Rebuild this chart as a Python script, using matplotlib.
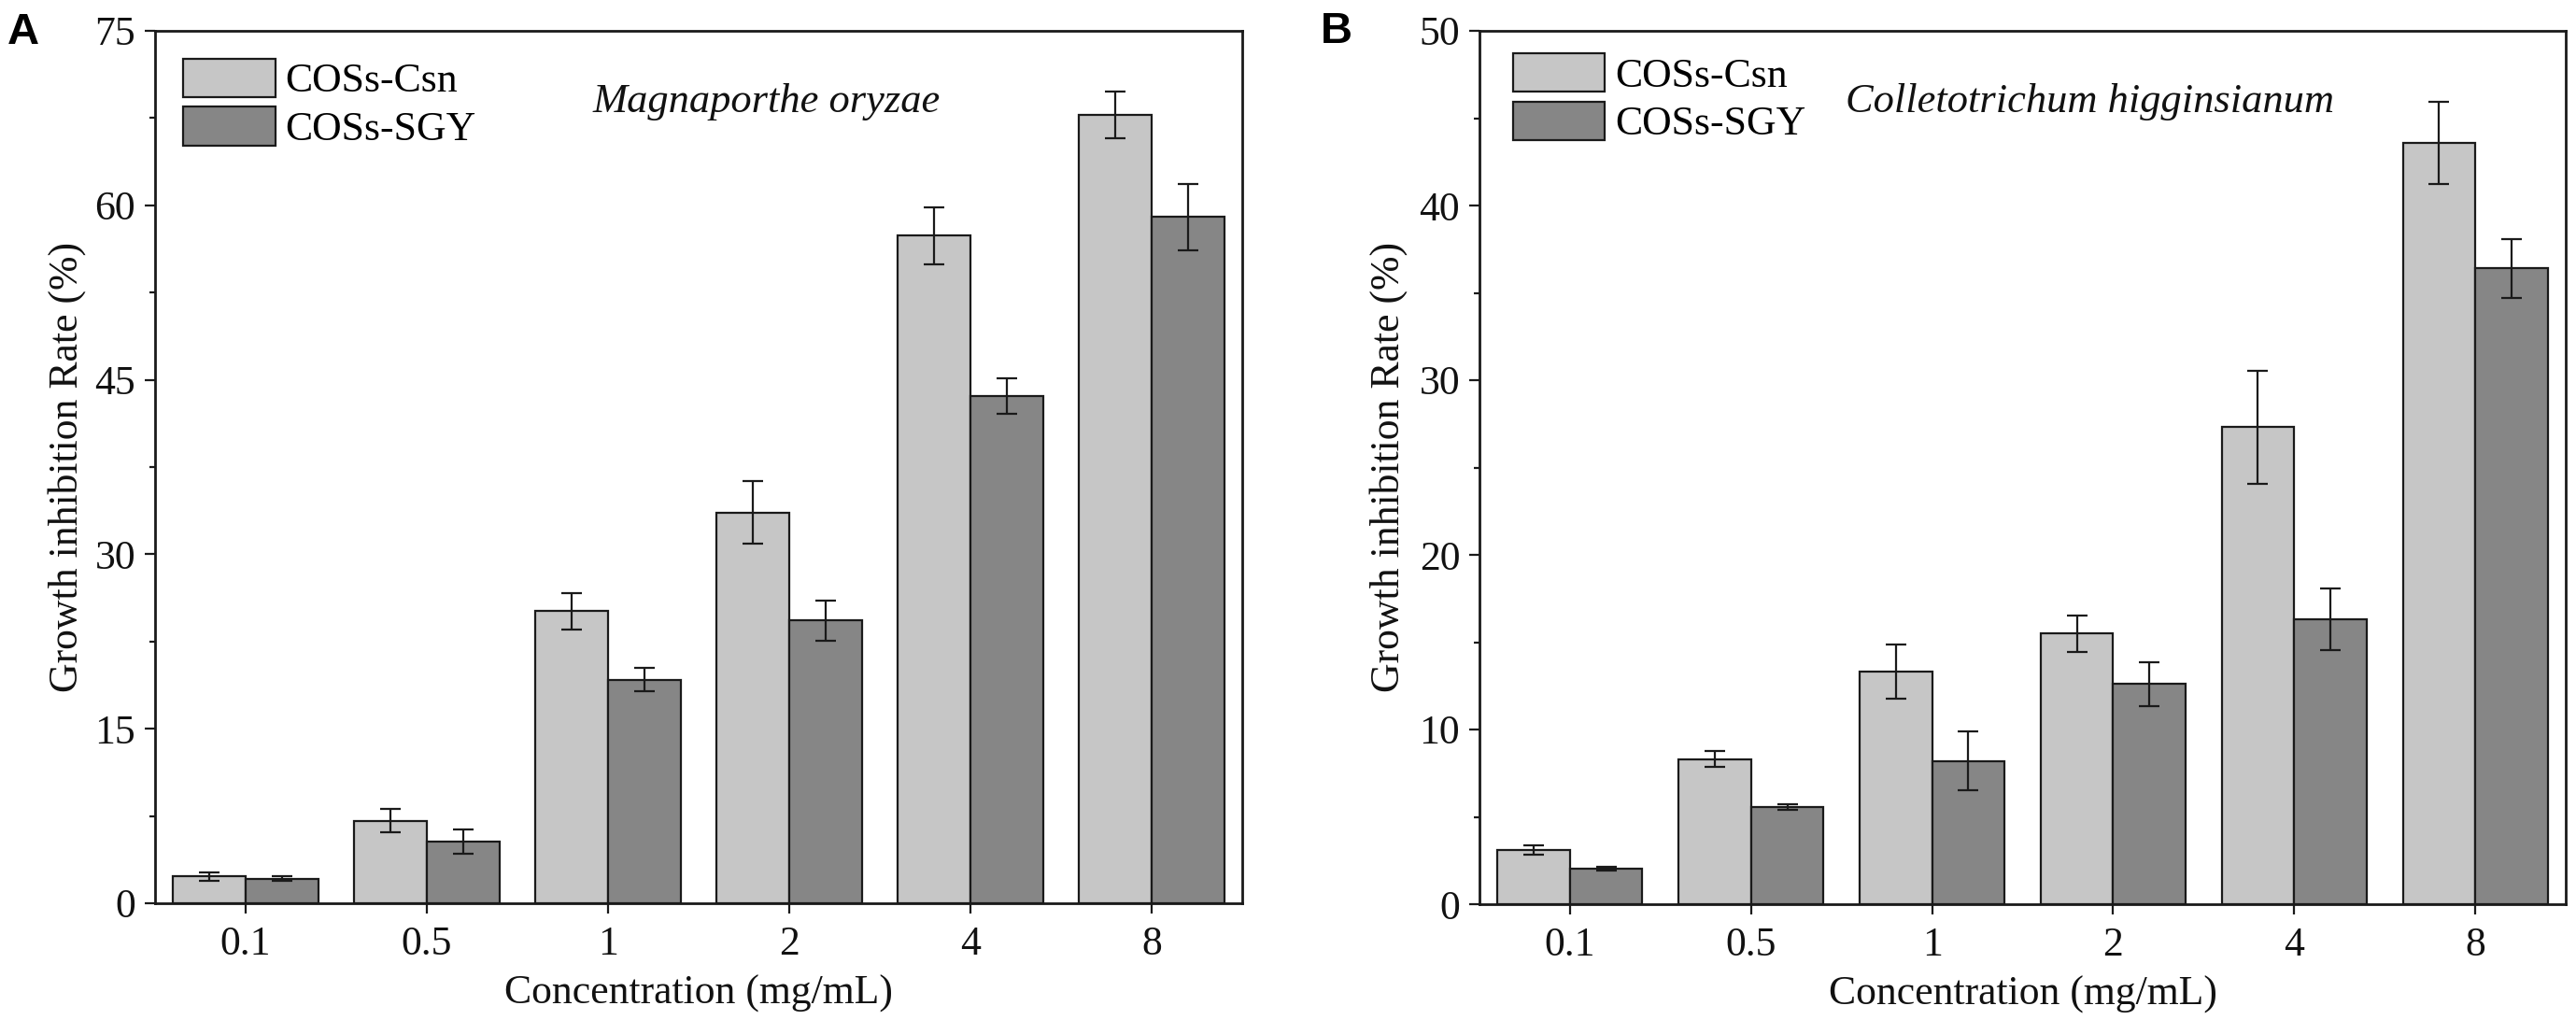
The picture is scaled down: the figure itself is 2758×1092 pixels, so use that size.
import matplotlib
matplotlib.use("Agg")
import matplotlib.pyplot as plt
import numpy as np
from matplotlib.patches import Patch
from matplotlib.ticker import MultipleLocator

# ---------------- data ----------------
concentrations = ["0.1", "0.5", "1", "2", "4", "8"]
series_names = ["COSs-Csn", "COSs-SGY"]

a_csn = [2.3, 7.1, 25.1, 33.6, 57.4, 67.8]
a_csn_err = [0.35, 1.0, 1.55, 2.7, 2.45, 2.0]
a_sgy = [2.1, 5.3, 19.2, 24.3, 43.6, 59.0]
a_sgy_err = [0.2, 1.05, 1.0, 1.75, 1.5, 2.85]

b_csn = [3.1, 8.3, 13.3, 15.5, 27.3, 43.6]
b_csn_err = [0.25, 0.45, 1.55, 1.05, 3.25, 2.35]
b_sgy = [2.05, 5.55, 8.2, 12.6, 16.3, 36.4]
b_sgy_err = [0.1, 0.17, 1.7, 1.25, 1.75, 1.7]

a_title = "Magnaporthe oryzae"
b_title = "Colletotrichum higginsianum"
xlabel = "Concentration (mg/mL)"
ylabel = "Growth inhibition Rate (%)"

# ---------------- style ----------------
SERIF = ["Liberation Serif", "DejaVu Serif"]
plt.rcParams["font.family"] = SERIF
FS = 31.5
LIGHT = "#c6c6c6"
DARK = "#868686"
EDGE = "#1a1a1a"

W, H = 2758, 1092
fig = plt.figure(figsize=(W / 100, H / 100), dpi=100)

def fx(px):
    return px / W

def fy(py):
    return 1 - py / H

axA = fig.add_axes([fx(166), fy(967), fx(1330) - fx(166), fy(33) - fy(967)])
axB = fig.add_axes([fx(1584), fy(968), fx(2747) - fx(1584), fy(33) - fy(968)])

def draw(ax, csn, csn_e, sgy, sgy_e, ymax, major, title, leg_anchor):
    x = np.arange(len(concentrations))
    w = 0.4
    ax.bar(x - w / 2, csn, width=w, color=LIGHT, edgecolor=EDGE, linewidth=1.6, zorder=2)
    ax.bar(x + w / 2, sgy, width=w, color=DARK, edgecolor=EDGE, linewidth=1.6, zorder=2)
    ax.errorbar(x - w / 2, csn, yerr=csn_e, fmt="none", ecolor=EDGE, elinewidth=1.6,
                capsize=8, capthick=1.6, zorder=3)
    ax.errorbar(x + w / 2, sgy, yerr=sgy_e, fmt="none", ecolor=EDGE, elinewidth=1.6,
                capsize=8, capthick=1.6, zorder=3)
    ax.set_xlim(-0.5, len(concentrations) - 0.5)
    ax.set_ylim(0, ymax)
    ax.set_xticks(x)
    ax.set_xticklabels(concentrations)
    ax.yaxis.set_major_locator(MultipleLocator(major))
    ax.yaxis.set_minor_locator(MultipleLocator(major / 2))
    ax.tick_params(axis="both", which="major", direction="out", length=8, width=1.6,
                   labelsize=FS, pad=7, colors=EDGE, labelcolor="#111111")
    ax.tick_params(axis="y", which="minor", direction="out", length=4.5, width=1.6, colors=EDGE)
    ax.tick_params(axis="x", which="major", pad=9)
    ax.tick_params(top=False, right=False)
    for s in ax.spines.values():
        s.set_linewidth(2.0)
        s.set_color(EDGE)
    ax.set_xlabel(xlabel, fontsize=FS, labelpad=9, color="#111111")
    ax.text(0.562, 0.907, title, transform=ax.transAxes, fontsize=32, style="italic",
            ha="center", va="baseline", color="#111111")
    handles = [Patch(facecolor=LIGHT, edgecolor=EDGE, linewidth=1.6),
               Patch(facecolor=DARK, edgecolor=EDGE, linewidth=1.6)]
    ax.legend(handles, series_names, loc="upper left", bbox_to_anchor=leg_anchor,
              frameon=False, fontsize=FS, borderpad=0, borderaxespad=0,
              handlelength=2.25, handleheight=1.07, labelspacing=0.16,
              handletextpad=0.25)

draw(axA, a_csn, a_csn_err, a_sgy, a_sgy_err, 75, 15, a_title, (0.026, 0.968))
draw(axB, b_csn, b_csn_err, b_sgy, b_sgy_err, 50, 10, b_title, (0.031, 0.974))

fig.text(fx(72), fy(500), ylabel, rotation=90, fontsize=FS, ha="center", va="center",
         color="#111111")
fig.text(fx(1487), fy(500), ylabel, rotation=90, fontsize=FS, ha="center", va="center",
         color="#111111")

fig.text(fx(8), fy(47), "A", fontsize=34, fontweight="bold",
         family=["Liberation Sans", "DejaVu Sans"], ha="left", va="baseline")
fig.text(fx(1414), fy(46), "B", fontsize=34, fontweight="bold",
         family=["Liberation Sans", "DejaVu Sans"], ha="left", va="baseline")

fig.savefig("out.png", dpi=100, facecolor="white")
